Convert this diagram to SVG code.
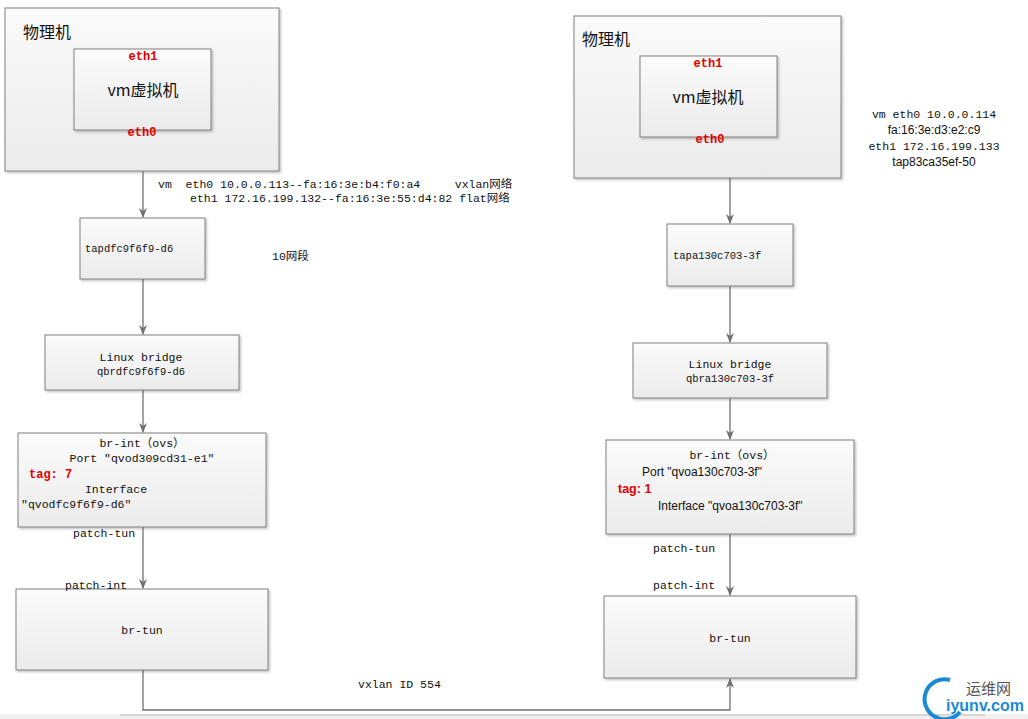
<svg xmlns="http://www.w3.org/2000/svg" width="1028" height="719" viewBox="0 0 1028 719">
<defs>
<linearGradient id="g" x1="0" y1="0" x2="0" y2="1"><stop offset="0" stop-color="#fbfbfb"/><stop offset="1" stop-color="#ebebeb"/></linearGradient>
<marker id="a" markerWidth="10" markerHeight="8" refX="9" refY="4" orient="auto" markerUnits="userSpaceOnUse"><path d="M0,0 L10,4 L0,8 L3,4 z" fill="#707070"/></marker>
<filter id="s" x="-5%" y="-5%" width="112%" height="115%"><feDropShadow dx="1.5" dy="1.5" stdDeviation="1" flood-color="#000" flood-opacity="0.25"/></filter>
</defs>
<style>
.b{fill:url(#g);stroke:#808080;stroke-width:1;filter:url(#s)}
.m{font-family:"Liberation Mono","Noto Sans CJK SC",monospace;font-size:11.5px;fill:#111}
.t{font-family:"Liberation Sans","Noto Sans CJK SC",sans-serif;font-size:12px;fill:#111}
.h{font-family:"Noto Sans CJK SC",sans-serif;font-size:16px;fill:#111}
.r{font-family:"Liberation Mono",monospace;font-size:12px;font-weight:bold;fill:#e00000}
.rs{font-family:"Liberation Sans",sans-serif;font-size:12.5px;font-weight:bold;fill:#e00000}
.c{text-anchor:middle}
.l{fill:none;stroke:#707070;stroke-width:1.3}
</style>
<rect width="1028" height="719" fill="#fff"/>
<g id="pm1"><rect class="b" x="5" y="8" width="274" height="163"/><text class="h" x="23" y="38">物理机</text></g>
<g id="vm1"><rect class="b" x="74" y="49" width="137" height="81"/><text class="r c" x="143" y="60">eth1</text><text class="h c" x="143" y="96">vm虚拟机</text><text class="r c" x="142" y="136">eth0</text></g>
<g id="tap1"><rect class="b" x="80" y="218" width="125" height="61"/><text class="m" x="85" y="252" style="font-size:10.5px">tapdfc9f6f9-d6</text></g>
<g id="lb1"><rect class="b" x="45" y="335" width="194" height="55"/><text class="m c" x="141" y="361">Linux bridge</text><text class="m c" x="141" y="375" style="font-size:10.5px">qbrdfc9f6f9-d6</text></g>
<g id="brint1"><rect class="b" x="18" y="433" width="248" height="94"/>
<text class="m c" x="142" y="447">br-int（ovs）</text><text class="m c" x="142" y="462">Port ″qvod309cd31-e1″</text><text class="r" x="29" y="478">tag: 7</text><text class="m c" x="116" y="493">Interface</text><text class="m" x="21" y="508">″qvodfc9f6f9-d6″</text></g>
<g id="brtun1"><rect class="b" x="16" y="589" width="252" height="81"/><text class="m c" x="142" y="634">br-tun</text></g>
<g id="pm2"><rect class="b" x="574" y="16" width="267" height="162"/><text class="h" x="582" y="45">物理机</text></g>
<g id="vm2"><rect class="b" x="640" y="56" width="137" height="81"/><text class="r c" x="708" y="67">eth1</text><text class="h c" x="708" y="103">vm虚拟机</text><text class="r c" x="710" y="143">eth0</text></g>
<g id="tap2"><rect class="b" x="667" y="224" width="126" height="62"/><text class="m" x="673" y="259" style="font-size:10.5px">tapa130c703-3f</text></g>
<g id="lb2"><rect class="b" x="633" y="343" width="194" height="55"/><text class="m c" x="730" y="368">Linux bridge</text><text class="m c" x="730" y="382" style="font-size:10.5px">qbra130c703-3f</text></g>
<g id="brint2"><rect class="b" x="606" y="440" width="248" height="94"/>
<text class="m c" x="732" y="459">br-int（ovs）</text><text class="t" x="642" y="476">Port "qvoa130c703-3f"</text><text class="rs" x="618" y="493">tag: 1</text><text class="t" x="658" y="510">Interface "qvoa130c703-3f"</text></g>
<g id="brtun2"><rect class="b" x="604" y="596" width="252" height="82"/><text class="m c" x="730" y="642">br-tun</text></g>
<g id="connectors">
<line class="l" x1="143" y1="171" x2="143" y2="217" marker-end="url(#a)"/>
<line class="l" x1="143" y1="279" x2="143" y2="334" marker-end="url(#a)"/>
<line class="l" x1="143" y1="390" x2="143" y2="432" marker-end="url(#a)"/>
<line class="l" x1="143" y1="527" x2="143" y2="588" marker-end="url(#a)"/>
<line class="l" x1="730" y1="178" x2="730" y2="223" marker-end="url(#a)"/>
<line class="l" x1="730" y1="286" x2="730" y2="342" marker-end="url(#a)"/>
<line class="l" x1="730" y1="398" x2="730" y2="439" marker-end="url(#a)"/>
<line class="l" x1="730" y1="534" x2="730" y2="595" marker-end="url(#a)"/>
<path class="l" d="M143,670 V710 H730 V679" marker-end="url(#a)"/>
</g>
<g id="labels">
<text class="m" x="158" y="188" xml:space="preserve">vm  eth0 10.0.0.113--fa:16:3e:b4:f0:a4     vxlan网络</text>
<text class="m" x="190" y="202">eth1 172.16.199.132--fa:16:3e:55:d4:82 flat网络</text>
<text class="m" x="272" y="260">10网段</text>
<text class="m" x="73" y="537">patch-tun</text>
<text class="m" x="65" y="589">patch-int</text>
<text class="m" x="653" y="552">patch-tun</text>
<text class="m" x="653" y="589">patch-int</text>
<text class="m" x="358" y="688">vxlan ID 554</text>
<text class="m c" x="934" y="118">vm eth0 10.0.0.114</text>
<text class="t c" x="934" y="134">fa:16:3e:d3:e2:c9</text>
<text class="m c" x="934" y="150">eth1 172.16.199.133</text>
<text class="t c" x="934" y="166">tap83ca35ef-50</text>
</g>
<g id="bottom"><rect x="0" y="714" width="1028" height="5" fill="#f0f0f0"/><line x1="120" y1="715" x2="985" y2="715" stroke="#bbb"/></g>
<g id="watermark">
<path d="M950,680 A20,20 0 1 0 960,712" fill="none" stroke="#1a8ad4" stroke-width="4"/>
<text x="966" y="694" style="font-family:'Noto Sans CJK SC',sans-serif;font-size:15px;fill:#555">运维网</text>
<text x="946" y="711" style="font-family:'Liberation Sans',sans-serif;font-size:16px;font-weight:bold;fill:#1a8ad4">iyunv.com</text>
</g>
</svg>
